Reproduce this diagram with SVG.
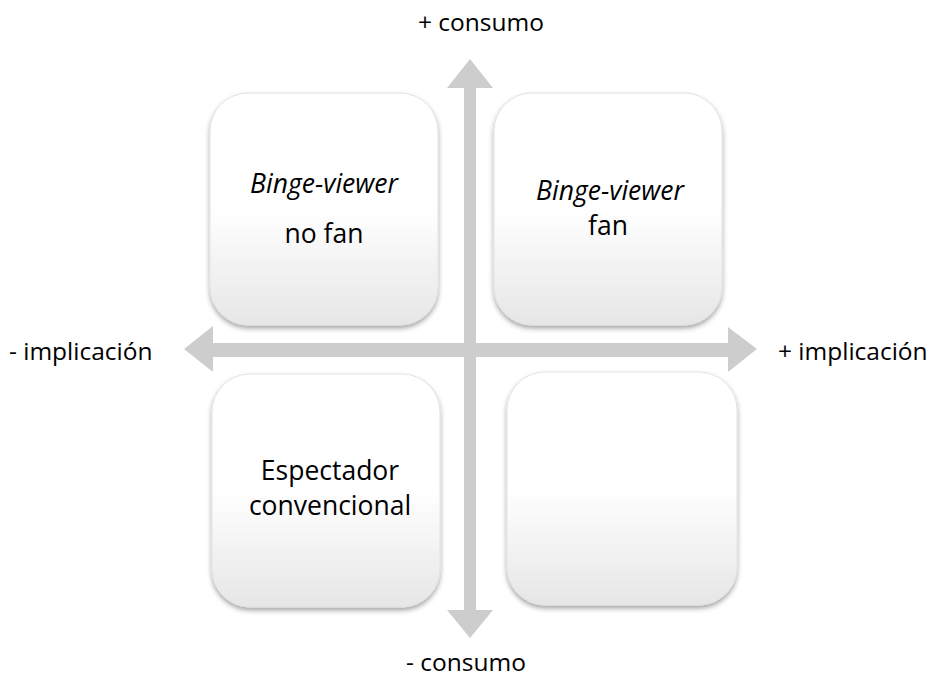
<svg xmlns="http://www.w3.org/2000/svg" width="933" height="682" viewBox="0 0 933 682">
<defs>
<linearGradient id="boxg" x1="0" y1="0" x2="0" y2="1">
<stop offset="0" stop-color="#ffffff"/>
<stop offset="0.5" stop-color="#ffffff"/>
<stop offset="1" stop-color="#e6e6e6"/>
</linearGradient>
<filter id="sh" x="-10%" y="-10%" width="120%" height="125%">
<feDropShadow dx="0" dy="3" stdDeviation="2.5" flood-color="#000000" flood-opacity="0.35"/>
</filter>
</defs>
<style>
.box{fill:url(#boxg);stroke:#e2e2e2;stroke-width:1;filter:url(#sh)}
.arr{fill:#cdcdcd}
text{font-family:"Open Sans","Liberation Sans",sans-serif;fill:#000}
.lbl{font-size:24.5px}
.bt{font-size:26.5px;text-anchor:middle}
.it{font-style:italic}
</style>
<rect width="933" height="682" fill="#ffffff"/>
<g id="connectors">
<polygon class="arr" points="470,59 493,88 476,88 476,610 493,610 470,638 447,610 464,610 464,88 447,88"/>
<polygon class="arr" points="184,349 213,326 213,343 728,343 728,327 757,349 728,372 728,357 213,357 213,372"/>
</g>
<g id="node-tl">
<rect class="box" x="210" y="93" width="228" height="232" rx="38"/>
<text class="bt it" x="324" y="193">Binge-viewer</text>
<text class="bt" x="324" y="243">no fan</text>
</g>
<g id="node-tr">
<rect class="box" x="494" y="93" width="228" height="232" rx="38"/>
<text class="bt it" x="610" y="200">Binge-viewer</text>
<text class="bt" x="608" y="235">fan</text>
</g>
<g id="node-bl">
<rect class="box" x="212" y="374" width="228" height="233" rx="38"/>
<text class="bt" x="330" y="480">Espectador</text>
<text class="bt" x="330" y="515">convencional</text>
</g>
<g id="node-br">
<rect class="box" x="507" y="372" width="230" height="233" rx="38"/>
</g>
<g id="labels">
<text class="lbl" x="481" y="31" text-anchor="middle">+ consumo</text>
<text class="lbl" x="466" y="671" text-anchor="middle">- consumo</text>
<text class="lbl" x="9" y="360">- implicación</text>
<text class="lbl" x="778" y="360">+ implicación</text>
</g>
</svg>
